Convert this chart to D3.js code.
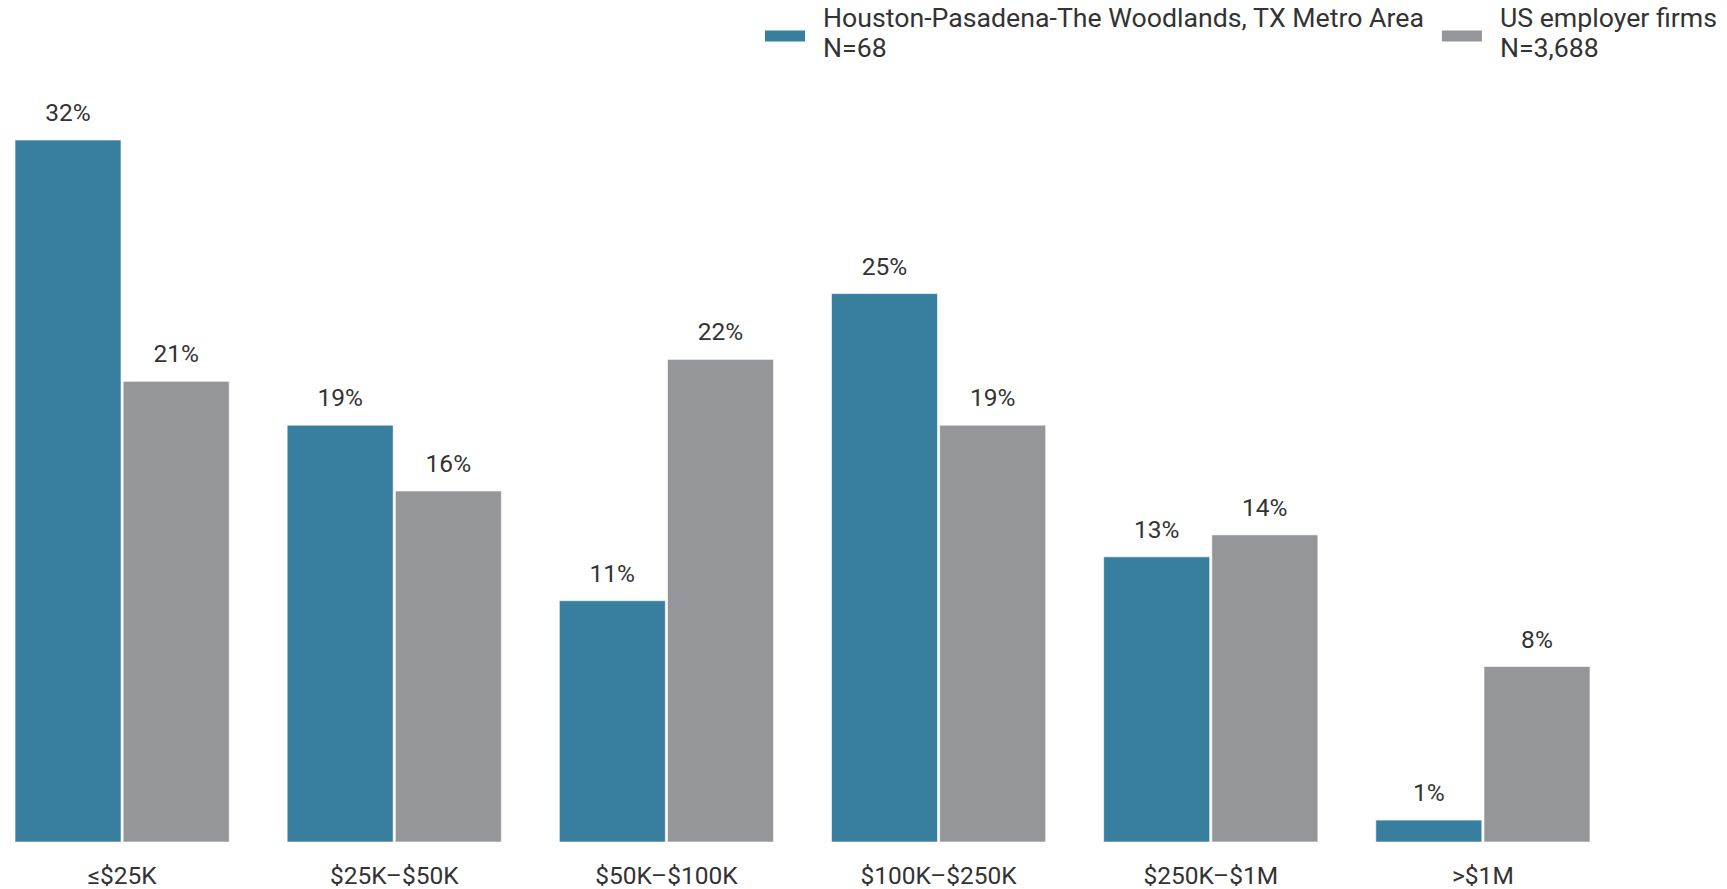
<!DOCTYPE html>
<html>
<head>
<meta charset="utf-8">
<script src="https://cdn.jsdelivr.net/npm/d3@7"></script>
<style>
  html, body { margin: 0; padding: 0; background: #fff; }
  svg { display: block; font-family: Roboto, "Noto Sans", sans-serif; }
</style>
</head>
<body>
<svg id="chart" width="1727" height="889"></svg>
<script>
const categories = ["≤$25K", "$25K–$50K", "$50K–$100K", "$100K–$250K", "$250K–$1M", ">$1M"];
const seriesNames = ["Houston-Pasadena-The Woodlands, TX Metro Area", "US employer firms"];
const seriesN = ["N=68", "N=3,688"];
const houstonValues = [32, 19, 11, 25, 13, 1];
const usValues = [21, 16, 22, 19, 14, 8];
const colors = ["#387e9f", "#959699"];

const svg = d3.select("#chart");

const x0 = d3.scaleBand().domain(categories).range([15, 1590]).paddingInner(0.213).paddingOuter(0);
const x1 = d3.scaleBand().domain([0, 1]).range([0, x0.bandwidth()]).paddingInner(0.02).paddingOuter(0);
const y = d3.scaleLinear().domain([0, 32]).range([842, 140]);

const data = categories.map((c, i) => ({ cat: c, vals: [houstonValues[i], usValues[i]] }));

const groups = svg.append("g").selectAll("g").data(data).join("g")
  .attr("transform", d => `translate(${x0(d.cat)},0)`);

groups.selectAll("rect").data(d => d.vals.map((v, s) => ({ v, s }))).join("rect")
  .attr("x", d => x1(d.s))
  .attr("y", d => y(d.v))
  .attr("width", x1.bandwidth())
  .attr("height", d => y(0) - y(d.v))
  .attr("fill", d => colors[d.s])
  .attr("stroke", "#ffffff")
  .attr("stroke-opacity", 0.6)
  .attr("stroke-width", 1);

groups.selectAll("text.val").data(d => d.vals.map((v, s) => ({ v, s }))).join("text")
  .attr("class", "val")
  .attr("x", d => x1(d.s) + x1.bandwidth() / 2)
  .attr("y", d => y(d.v) - 19)
  .attr("text-anchor", "middle")
  .attr("font-size", 24.5)
  .attr("fill", "#333")
  .text(d => d.v + "%");

// x axis labels
const xAxis = d3.axisBottom(x0).tickSize(0).tickPadding(0);
const ax = svg.append("g").attr("transform", "translate(0,842)").call(xAxis);
ax.select(".domain").remove();
ax.selectAll("text")
  .attr("font-size", 24.5)
  .attr("font-family", "Roboto, 'Noto Sans', sans-serif")
  .attr("fill", "#333")
  .attr("dy", null)
  .attr("y", 41.5);

// legend
const legend = svg.append("g");
let lx = 765;
seriesNames.forEach((name, i) => {
  const g = legend.append("g");
  g.append("rect").attr("x", lx).attr("y", 30.5).attr("width", 40).attr("height", 11).attr("fill", colors[i]);
  const t = g.append("text").attr("x", lx + 58).attr("y", 27).attr("font-size", 26.7).attr("fill", "#333");
  t.append("tspan").attr("x", lx + 58).attr("y", 27).text(name);
  t.append("tspan").attr("x", lx + 58).attr("y", 56.5).text(seriesN[i]);
  const w = t.node().getBBox().width;
  lx = lx + 58 + w + 18;
});
</script>
</body>
</html>
